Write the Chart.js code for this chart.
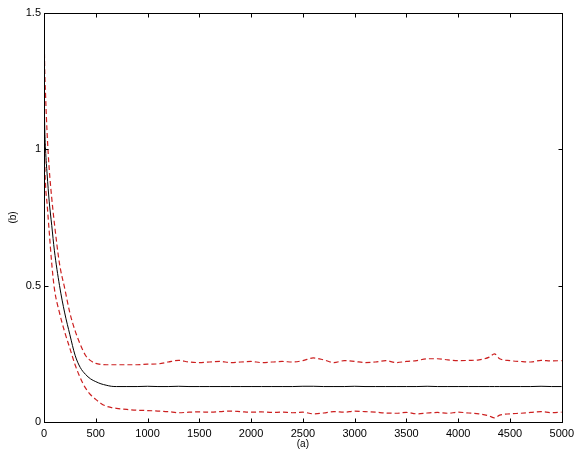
<!DOCTYPE html>
<html>
<head>
<meta charset="utf-8">
<script src="https://cdn.jsdelivr.net/npm/chart.js@4.4.0/dist/chart.umd.min.js"></script>
<style>
  body { margin: 0; background: #fff; }
  #wrap { width: 579px; height: 454px; }
</style>
</head>
<body>
<div id="wrap"><canvas id="convChart" width="579" height="454"></canvas></div>
<script>
// iteration axis
const xs = [0, 5, 15, 30, 50, 75, 100, 150, 200, 250, 300, 350, 400, 450, 500, 550, 600, 650, 700,
  800, 900, 1000, 1100, 1200, 1300, 1400, 1500, 1600, 1700, 1800, 1900, 2000, 2100, 2200, 2300, 2400,
  2500, 2600, 2700, 2800, 2900, 3000, 3100, 3200, 3300, 3400, 3500, 3600, 3700, 3800, 3900, 4000,
  4100, 4200, 4300, 4350, 4400, 4500, 4600, 4700, 4800, 4900, 5000];

// mean curve
const meanVals = [1.30, 1.12, 1.00, 0.91, 0.81, 0.72, 0.63, 0.50, 0.40, 0.32, 0.245, 0.20, 0.175, 0.158, 0.148, 0.140, 0.135, 0.131, 0.130,
  0.130, 0.130, 0.131, 0.130, 0.130, 0.131, 0.130, 0.130, 0.130, 0.130, 0.130, 0.130, 0.130, 0.130, 0.130, 0.130, 0.130,
  0.131, 0.131, 0.130, 0.130, 0.130, 0.131, 0.130, 0.130, 0.130, 0.130, 0.130, 0.130, 0.131, 0.130, 0.130, 0.130,
  0.130, 0.130, 0.130, 0.130, 0.130, 0.130, 0.130, 0.130, 0.131, 0.130, 0.130];

// upper bound
const upperVals = [1.50, 1.33, 1.20, 1.06, 0.93, 0.82, 0.73, 0.58, 0.49, 0.40, 0.335, 0.285, 0.245, 0.225, 0.215, 0.211, 0.210, 0.210, 0.210,
  0.210, 0.210, 0.212, 0.213, 0.220, 0.226, 0.220, 0.218, 0.220, 0.222, 0.218, 0.220, 0.222, 0.218, 0.220, 0.222, 0.220,
  0.225, 0.235, 0.228, 0.218, 0.225, 0.222, 0.218, 0.220, 0.225, 0.218, 0.222, 0.225, 0.232, 0.232, 0.228, 0.225,
  0.226, 0.228, 0.238, 0.250, 0.232, 0.225, 0.222, 0.220, 0.226, 0.224, 0.225];

// lower bound
const lowerVals = [1.20, 1.00, 0.87, 0.80, 0.70, 0.58, 0.49, 0.40, 0.33, 0.27, 0.21, 0.162, 0.125, 0.100, 0.083, 0.068, 0.058, 0.053, 0.050,
  0.046, 0.043, 0.042, 0.040, 0.038, 0.034, 0.036, 0.037, 0.036, 0.038, 0.040, 0.038, 0.036, 0.037, 0.035, 0.036, 0.034,
  0.036, 0.030, 0.033, 0.038, 0.036, 0.040, 0.038, 0.036, 0.033, 0.032, 0.035, 0.030, 0.033, 0.035, 0.032, 0.036,
  0.033, 0.030, 0.022, 0.015, 0.025, 0.030, 0.032, 0.035, 0.038, 0.034, 0.036];

const xTicks = [0, 500, 1000, 1500, 2000, 2500, 3000, 3500, 4000, 4500, 5000];
const yTicks = [0, 0.5, 1, 1.5];

const pts = vals => vals.map((v, i) => ({ x: xs[i], y: v }));
const red = 'rgb(204,32,32)';

// box around the plot with inward tick marks on all four sides
const boxTicks = {
  id: 'boxTicks',
  afterDatasetsDraw(chart) {
    const { ctx, chartArea: a, scales: { x, y } } = chart;
    const L = Math.round(a.left) + 0.5, R = Math.round(a.right) + 0.5;
    const T = Math.round(a.top) + 0.5, B = Math.round(a.bottom) + 0.5;
    ctx.save();
    ctx.strokeStyle = '#000';
    ctx.lineWidth = 1;
    ctx.strokeRect(L, T, R - L, B - T);
    ctx.beginPath();
    x.ticks.forEach(t => {
      const px = Math.round(x.getPixelForValue(t.value)) + 0.5;
      ctx.moveTo(px, B); ctx.lineTo(px, B - 4);
      ctx.moveTo(px, T); ctx.lineTo(px, T + 4);
    });
    y.ticks.forEach(t => {
      const py = Math.round(y.getPixelForValue(t.value)) + 0.5;
      ctx.moveTo(L, py); ctx.lineTo(L + 4, py);
      ctx.moveTo(R, py); ctx.lineTo(R - 4, py);
    });
    ctx.stroke();
    ctx.restore();
  }
};

const font = { family: 'Liberation Sans, Arial, sans-serif', size: 11 };
const plain = v => String(v);

new Chart(document.getElementById('convChart'), {
  type: 'line',
  data: {
    datasets: [
      { data: pts(upperVals), borderColor: red, borderWidth: 1.2, borderDash: [5, 3], pointRadius: 0, cubicInterpolationMode: 'monotone', fill: false },
      { data: pts(lowerVals), borderColor: red, borderWidth: 1.2, borderDash: [5, 3], pointRadius: 0, cubicInterpolationMode: 'monotone', fill: false },
      { data: pts(meanVals), borderColor: '#000', borderWidth: 1, pointRadius: 0, cubicInterpolationMode: 'monotone', fill: false }
    ]
  },
  options: {
    responsive: false,
    animation: false,
    layout: { padding: { top: 13, right: 14, left: 0, bottom: 0 } },
    plugins: { legend: { display: false }, tooltip: { enabled: false } },
    scales: {
      x: {
        type: 'linear',
        min: 0, max: 5000,
        afterBuildTicks: s => { s.ticks = xTicks.map(v => ({ value: v })); },
        afterFit: s => { s.height = 32; },
        grid: { drawOnChartArea: false, drawTicks: false },
        border: { display: false },
        ticks: { color: '#000', font, padding: 5, maxRotation: 0, autoSkip: false, callback: plain },
        title: { display: true, text: '(a)', color: '#000', font: { ...font, size: 10 }, padding: { top: 0, bottom: 4 } }
      },
      y: {
        min: 0, max: 1.5,
        afterBuildTicks: s => { s.ticks = yTicks.map(v => ({ value: v })); },
        afterFit: s => { s.width = 44; },
        grid: { drawOnChartArea: false, drawTicks: false },
        border: { display: false },
        ticks: { color: '#000', font, padding: 3, callback: plain },
        title: { display: true, text: '(b)', color: '#000', font: { ...font, size: 10 }, padding: { top: 7, bottom: 0 } }
      }
    }
  },
  plugins: [boxTicks]
});
</script>
</body>
</html>
